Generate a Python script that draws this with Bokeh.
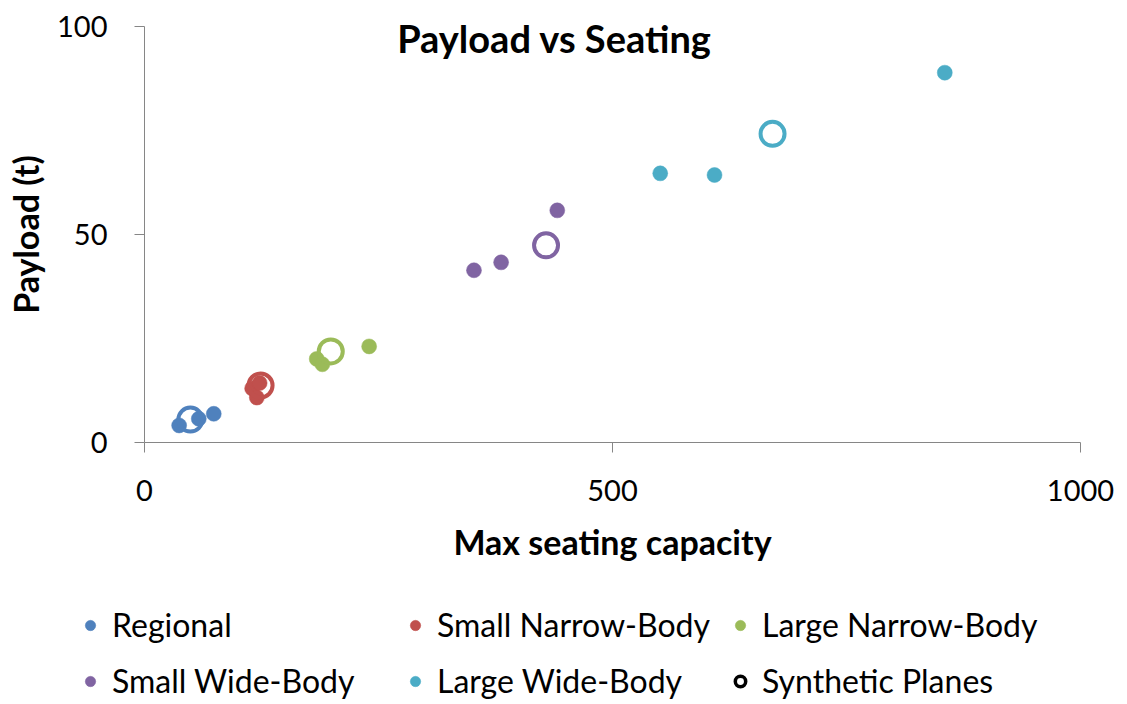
from bokeh.plotting import figure
from bokeh.models import Range1d, Label, Legend, LegendItem, FixedTicker
from bokeh.embed import file_html
from bokeh.resources import INLINE

# ---- data ----
categories = ["Regional", "Small Narrow-Body", "Large Narrow-Body", "Small Wide-Body", "Large Wide-Body"]
colors = ["#4F81BD", "#C0504D", "#9BBB59", "#8064A2", "#4BACC6"]

regional_x = [37, 58, 74]
regional_y = [4.1, 5.7, 6.9]
small_nb_x = [115, 120, 123]
small_nb_y = [13.0, 10.8, 14.3]
large_nb_x = [184, 190, 240]
large_nb_y = [20.1, 18.8, 23.1]
small_wb_x = [352, 381, 441]
small_wb_y = [41.4, 43.3, 55.8]
large_wb_x = [551, 609, 855]
large_wb_y = [64.7, 64.3, 88.9]

synthetic_x = [49, 124, 199, 429, 671]
synthetic_y = [5.5, 13.7, 21.9, 47.4, 74.2]

x_ticks = [0, 500, 1000]
y_ticks = [0, 50, 100]
x_bounds = (0, 1000)
y_bounds = (0, 100)

FONT = "Lato"
W, H = 1120, 700
# plot area in pixels (left, right, top, bottom) used to set the visible ranges
PX_L, PX_R, PX_T, PX_B = 144, 1080, 26, 442
sx = (PX_R - PX_L) / (x_bounds[1] - x_bounds[0])
sy = (PX_B - PX_T) / (y_bounds[1] - y_bounds[0])

p = figure(width=W, height=H, output_backend="svg", toolbar_location=None,
           x_range=Range1d(x_bounds[0] - PX_L / sx, x_bounds[1] + (W - PX_R) / sx),
           y_range=Range1d(y_bounds[0] - (H - PX_B) / sy, y_bounds[1] + PX_T / sy),
           min_border_left=0, min_border_right=0, min_border_top=0, min_border_bottom=0)
p.outline_line_color = None
p.xgrid.visible = False
p.ygrid.visible = False

for ax in (p.xaxis[0], p.yaxis[0]):
    ax.fixed_location = 0
    ax.axis_line_color = "#868686"
    ax.major_tick_line_color = "#868686"
    ax.minor_tick_line_color = None
    ax.major_tick_in = 0
    ax.major_tick_out = 10
    ax.major_label_text_font = FONT
    ax.major_label_text_font_size = "29px"
    ax.major_label_text_color = "black"
    ax.axis_label_text_font = FONT
    ax.axis_label_text_font_size = "34px"
    ax.axis_label_text_font_style = "bold"
    ax.axis_label_text_color = "black"

p.xaxis[0].bounds = x_bounds
p.yaxis[0].bounds = y_bounds
p.xaxis[0].ticker = FixedTicker(ticks=x_ticks)
p.yaxis[0].ticker = FixedTicker(ticks=y_ticks)
p.xaxis[0].axis_label = "Max seating capacity"
p.yaxis[0].axis_label = "Payload (t)"
p.xaxis[0].major_label_standoff = 27
p.xaxis[0].axis_label_standoff = 17
p.yaxis[0].major_label_standoff = 27
p.yaxis[0].axis_label_standoff = 8

series_x = [regional_x, small_nb_x, large_nb_x, small_wb_x, large_wb_x]
series_y = [regional_y, small_nb_y, large_nb_y, small_wb_y, large_wb_y]

renderers = []
for i, (cat, col) in enumerate(zip(categories, colors)):
    r = p.scatter(series_x[i], series_y[i], size=15, fill_color=col, line_color=col, line_width=0.5)
    renderers.append(r)
    p.scatter([synthetic_x[i]], [synthetic_y[i]], size=24, fill_color=None,
              line_color=col, line_width=4)

# legend-only renderer (hidden in the plot) for the "Synthetic Planes" entry
syn_legend = p.scatter(synthetic_x, synthetic_y, size=14, fill_color=None,
                       line_color="black", line_width=3.5, visible=False)

title = Label(x=438, y=97.3, text="Payload vs Seating", text_font=FONT, text_font_size="38px",
              text_font_style="bold", text_align="center", text_baseline="middle", text_color="black")
p.add_layout(title)

def make_legend(items, vy):
    return Legend(items=items, orientation="horizontal", location=(77, vy),
                  glyph_width=26, glyph_height=38, label_height=38, label_width=280,
                  label_standoff=9, spacing=10, padding=0, margin=0,
                  border_line_color=None, background_fill_alpha=0,
                  label_text_font=FONT, label_text_font_size="32px", label_text_color="black")

row1 = [LegendItem(label=categories[i], renderers=[renderers[i]]) for i in range(3)]
row2 = [LegendItem(label=categories[i], renderers=[renderers[i]]) for i in range(3, 5)]
row2.append(LegendItem(label="Synthetic Planes", renderers=[syn_legend]))

p.add_layout(make_legend(row1, 56))
p.add_layout(make_legend(row2, 0))

open("out.html", "w").write(file_html(p, INLINE))
